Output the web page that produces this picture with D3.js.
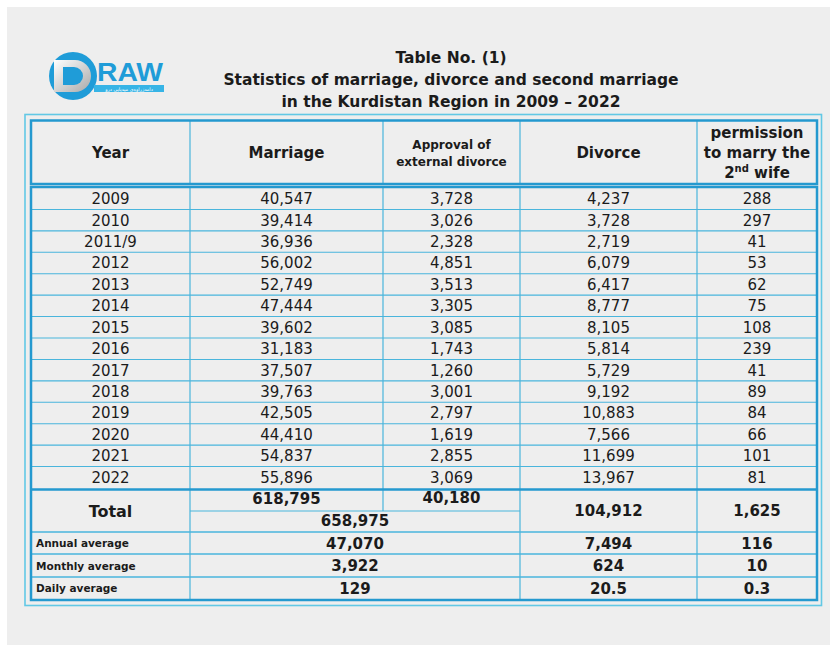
<!DOCTYPE html>
<html><head><meta charset="utf-8">
<script src="https://cdn.jsdelivr.net/npm/d3@7"></script>
<style>html,body{margin:0;padding:0;background:#fff;}svg{display:block;}</style>
</head><body>
<script>
// ---- data ----
const years = ["2009","2010","2011/9","2012","2013","2014","2015","2016","2017","2018","2019","2020","2021","2022"];
const marriage = [40547,39414,36936,56002,52749,47444,39602,31183,37507,39763,42505,44410,54837,55896];
const approval = [3728,3026,2328,4851,3513,3305,3085,1743,1260,3001,2797,1619,2855,3069];
const divorce = [4237,3728,2719,6079,6417,8777,8105,5814,5729,9192,10883,7566,11699,13967];
const permission = [288,297,41,53,62,75,108,239,41,89,84,66,101,81];
const totalLabel = "Total";
const totals = {marriage:618795, approval:40180, combined:658975, divorce:104912, permission:1625};
const avgLabels = ["Annual average","Monthly average","Daily average"];
const avgCombined = ["47,070","3,922","129"];
const avgDivorce = ["7,494","624","20.5"];
const avgPermission = ["116","10","0.3"];
const titleLines = ["Table No. (1)","Statistics of marriage, divorce and second marriage","in the Kurdistan Region in 2009 \u2013 2022"];

const W=830,H=645;
const svg=d3.select("body").append("svg").attr("width",W).attr("height",H);
const FONT="DejaVu Sans, Verdana, sans-serif";
const THICK="#2499cf", THIN="#49b5dc", OUT="#62c8e5", TXT="#1b1b1b";

svg.append("rect").attr("width",W).attr("height",H).attr("fill","#fff");
svg.append("rect").attr("x",7).attr("y",7).attr("width",W-7).attr("height",H-7).attr("fill","#eeeeee");

// ---- logo ----
const defs=svg.append("defs");
const g1=defs.append("linearGradient").attr("id","dg").attr("x1",0).attr("y1",0).attr("x2",1).attr("y2",1);
g1.append("stop").attr("offset","0%").attr("stop-color","#ffffff");
g1.append("stop").attr("offset","100%").attr("stop-color","#a9a9a9");
const logo=svg.append("g");
logo.append("circle").attr("cx",73).attr("cy",76).attr("r",24).attr("fill","#1f9cd8");
logo.append("path").attr("d","M54,60 H75 A16,16 0 0 1 75,92 H54 Z").attr("fill","url(#dg)");
logo.append("path").attr("d","M63,67 H74 A9,9 0 0 1 74,85 H63 Z").attr("fill","#1f9cd8");
logo.append("text").attr("x",97).attr("y",80.5).attr("font-family","Liberation Sans, Arial, sans-serif")
  .attr("font-weight","bold").attr("font-size",25).attr("fill","#1f9cd8")
  .attr("textLength",66).attr("lengthAdjust","spacingAndGlyphs").text("RAW");
logo.append("rect").attr("x",94).attr("y",85).attr("width",70).attr("height",7).attr("fill","#36b4e6");
logo.append("text").attr("x",129).attr("y",91).attr("text-anchor","middle").attr("font-family",FONT)
  .attr("font-size",4.8).attr("fill","#fff").text("دامەزراوەی میدیایی درو");

// ---- title ----
svg.selectAll("text.title").data(titleLines).join("text").attr("class","title")
  .attr("x",451).attr("y",(d,i)=>63+i*22).attr("text-anchor","middle")
  .attr("font-family",FONT).attr("font-weight","bold").attr("font-size",15.5).attr("fill",TXT).text(d=>d);

// ---- table geometry ----
const edges=[31,190,383,520,697,817];
const centers=edges.slice(0,-1).map((e,i)=>(e+edges[i+1])/2);
const y=d3.scaleBand().domain(years).range([188,488]);
const fmt=d3.format(",");

const grid=svg.append("g").attr("fill","none");
function hline(x1,x2,yy,c,w){grid.append("line").attr("x1",x1).attr("x2",x2).attr("y1",yy).attr("y2",yy).attr("stroke",c).attr("stroke-width",w);}
function vline(xx,y1,y2,c,w){grid.append("line").attr("x1",xx).attr("x2",xx).attr("y1",y1).attr("y2",y2).attr("stroke",c).attr("stroke-width",w);}

years.slice(1).forEach(yr=>hline(31,817,y(yr),THIN,1.1));
edges.slice(1,-1).forEach(e=>{vline(e,120,184,THIN,1.2);vline(e,187,489,THIN,1.2);});
vline(190,489,600,THIN,1.2); vline(383,489,511,THIN,1.2); vline(520,489,600,THIN,1.2); vline(697,489,600,THIN,1.2);
hline(190,520,511,THIN,1.2);
[532,554,577].forEach(v=>hline(31,817,v,THIN,1.4));
grid.append("rect").attr("x",25).attr("y",114.5).attr("width",796.5).attr("height",491).attr("stroke",OUT).attr("stroke-width",1.6);
grid.append("rect").attr("x",31).attr("y",120.5).attr("width",786).attr("height",63.5).attr("stroke",THICK).attr("stroke-width",2.5);
grid.append("rect").attr("x",31).attr("y",187).attr("width",786).attr("height",413).attr("stroke",THICK).attr("stroke-width",2.5);
hline(31,817,489.5,THICK,2.5);

// ---- header text ----
const hdr=svg.append("g").attr("font-family",FONT).attr("font-weight","bold").attr("fill",TXT).attr("text-anchor","middle");
hdr.append("text").attr("x",centers[0]).attr("y",158).attr("font-size",15).text("Year");
hdr.append("text").attr("x",centers[1]).attr("y",158).attr("font-size",15).text("Marriage");
hdr.append("text").attr("x",centers[2]).attr("y",149).attr("font-size",12).text("Approval of");
hdr.append("text").attr("x",centers[2]).attr("y",166).attr("font-size",12).text("external divorce");
hdr.append("text").attr("x",centers[3]).attr("y",158).attr("font-size",15).text("Divorce");
hdr.append("text").attr("x",centers[4]).attr("y",138).attr("font-size",15).text("permission");
hdr.append("text").attr("x",centers[4]).attr("y",158).attr("font-size",15).text("to marry the");
const t3=hdr.append("text").attr("x",centers[4]).attr("y",178).attr("font-size",15);
t3.append("tspan").text("2");
t3.append("tspan").attr("font-size",10).attr("dy",-6).text("nd");
t3.append("tspan").attr("dy",6).text(" wife");

// ---- body ----
const cols=[years, marriage.map(fmt), approval.map(fmt), divorce.map(fmt), permission.map(fmt)];
const body=svg.append("g").attr("font-family",FONT).attr("font-size",15).attr("fill",TXT).attr("text-anchor","middle");
cols.forEach((col,ci)=>{
  body.selectAll(null).data(col).join("text")
    .attr("x",centers[ci]).attr("y",(d,i)=>y(years[i])+y.bandwidth()/2).attr("dy","0.36em").text(d=>d);
});

// ---- footer ----
const ft=svg.append("g").attr("font-family",FONT).attr("font-weight","bold").attr("fill",TXT).attr("text-anchor","middle").attr("font-size",15);
ft.append("text").attr("x",centers[0]).attr("y",511).attr("dy","0.36em").attr("font-size",16).text(totalLabel);
ft.append("text").attr("x",centers[1]).attr("y",499).attr("dy","0.36em").text(fmt(totals.marriage));
ft.append("text").attr("x",centers[2]).attr("y",498).attr("dy","0.36em").text(fmt(totals.approval));
ft.append("text").attr("x",(190+520)/2).attr("y",521).attr("dy","0.36em").text(fmt(totals.combined));
ft.append("text").attr("x",centers[3]).attr("y",511).attr("dy","0.36em").text(fmt(totals.divorce));
ft.append("text").attr("x",centers[4]).attr("y",511).attr("dy","0.36em").text(fmt(totals.permission));
const avgY=d3.scaleBand().domain(avgLabels).range([532,600]);
ft.selectAll("text.al").data(avgLabels).join("text").attr("class","al").attr("text-anchor","start")
  .attr("x",36).attr("y",d=>avgY(d)+avgY.bandwidth()/2).attr("dy","0.36em").attr("font-size",10.5).text(d=>d);
ft.selectAll("text.ac").data(avgCombined).join("text").attr("class","ac")
  .attr("x",(190+520)/2).attr("y",(d,i)=>avgY(avgLabels[i])+avgY.bandwidth()/2).attr("dy","0.36em").text(d=>d);
ft.selectAll("text.ad").data(avgDivorce).join("text").attr("class","ad")
  .attr("x",centers[3]).attr("y",(d,i)=>avgY(avgLabels[i])+avgY.bandwidth()/2).attr("dy","0.36em").text(d=>d);
ft.selectAll("text.ap").data(avgPermission).join("text").attr("class","ap")
  .attr("x",centers[4]).attr("y",(d,i)=>avgY(avgLabels[i])+avgY.bandwidth()/2).attr("dy","0.36em").text(d=>d);
</script>
</body></html>
